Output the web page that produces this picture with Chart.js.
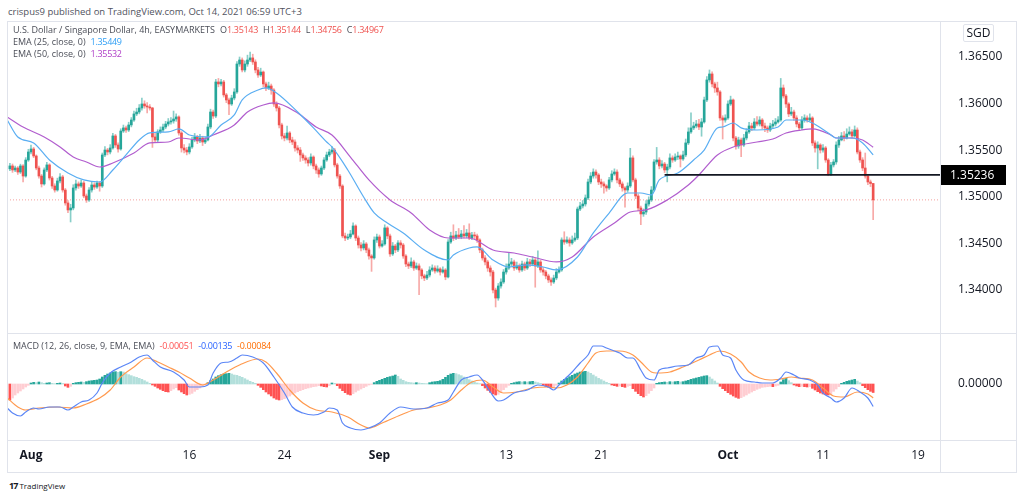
<!DOCTYPE html>
<html>
<head>
<meta charset="utf-8">
<title>USD/SGD 4h</title>
<script src="https://cdn.jsdelivr.net/npm/chart.js@4.4.1/dist/chart.umd.min.js"></script>
<style>
  html, body { margin: 0; padding: 0; background: #fff; }
  body { width: 1024px; height: 496px; position: relative; overflow: hidden; font-family: "Open Sans", Roboto, sans-serif; color: #131722; }
  .abs { position: absolute; white-space: nowrap; }
  .rule { position: absolute; background: #e0e3eb; }
  .lg { font-size: 9px; line-height: 12px; color: #4a4d57; z-index: 5; }
  .lg .it { margin-right: 5px; }
  .lg .num { letter-spacing: -0.3px; }
  canvas { display: block; }
</style>
</head>
<body>
<div class="abs" style="left:8px;top:5px;font-size:9.5px;color:#50535e">crispus9 published on TradingView.com, Oct 14, 2021 06:59 UTC+3</div>

<div class="abs" style="left:7px;top:21px;width:1009px;height:312px"><canvas id="price" width="1009" height="312"></canvas></div>
<div class="abs" style="left:7px;top:333px;width:1009px;height:139px"><canvas id="macd" width="1009" height="139"></canvas></div>

<div class="abs" style="left:7px;top:21px;width:1010px;height:452px;box-sizing:border-box;border:1px solid #e0e3eb"></div>
<div class="rule" style="left:940px;top:21px;width:1px;height:452px"></div>
<div class="rule" style="left:7px;top:333px;width:1010px;height:1px"></div>
<div class="rule" style="left:7px;top:440px;width:1010px;height:1px"></div>

<div class="abs" style="left:963px;top:24px;width:31px;height:18px;box-sizing:border-box;border:1px solid #e0e3eb;border-radius:2px;font-size:12px;line-height:16px;text-align:center;background:#fff;z-index:5">SGD</div>

<div id="lg1" class="abs lg" style="left:13px;top:24px"></div>
<div id="lg2" class="abs lg" style="left:13px;top:36px"></div>
<div id="lg3" class="abs lg" style="left:13px;top:48px"></div>
<div id="lg4" class="abs lg" style="left:13px;top:340px"></div>

<div class="abs" style="left:9px;top:479px;font-size:8px;color:#131722"><b style="font-size:9px;letter-spacing:-1px">17</b> TradingView</div>

<script>
// 4h bars, bar index 0 = Mon Aug 2 00:00 (UTC+3), 6 bars per trading day
const firstIndex = -8;
const firstOpen = 1.35300;
// opens are the previous bar's close
const closes = [
  1.35331, 1.35288, 1.35309, 1.35266, 1.35331, 1.35223, 1.35395, 1.35481,
  1.35513, 1.35438, 1.35309, 1.35223, 1.35138, 1.35288, // Aug 2
  1.35342, 1.35202, 1.35116, 1.35073, 1.35170, 1.35213,
  1.35073, 1.34934, 1.34859, 1.34880, 1.35095, 1.35138,
  1.35116, 1.35148, 1.35009, 1.34966, 1.35073, 1.35127,
  1.35105, 1.35148, 1.35116, 1.35449, 1.35502, 1.35481,
  1.35524, 1.35653, 1.35556, 1.35513, 1.35706, 1.35739, // Aug 9
  1.35717, 1.35771, 1.35824, 1.35889, 1.35910, 1.35953,
  1.35996, 1.35975, 1.35964, 1.35953, 1.35642, 1.35610,
  1.35696, 1.35717, 1.35749, 1.35781, 1.35803, 1.35814,
  1.35835, 1.35857, 1.35685, 1.35524, 1.35502, 1.35481,
  1.35535, 1.35610, 1.35642, 1.35599, 1.35631, 1.35588, // Aug 16
  1.35610, 1.35749, 1.35910, 1.35867, 1.36232, 1.36211,
  1.36232, 1.36093, 1.36039, 1.35996, 1.36060, 1.36125,
  1.36425, 1.36468, 1.36361, 1.36425, 1.36468, 1.36490,
  1.36447, 1.36361, 1.36307, 1.36339, 1.36211, 1.36168,
  1.36189, 1.36146, 1.35996, 1.35953, 1.35771, 1.35653, // Aug 23
  1.35631, 1.35685, 1.35610, 1.35588, 1.35524, 1.35502,
  1.35449, 1.35417, 1.35395, 1.35363, 1.35427, 1.35331,
  1.35288, 1.35245, 1.35309, 1.35395, 1.35449, 1.35481,
  1.35502, 1.35342, 1.35223, 1.35116, 1.34580, 1.34558,
  1.34569, 1.34601, 1.34687, 1.34558, 1.34483, 1.34451, // Aug 30
  1.34494, 1.34430, 1.34365, 1.34344, 1.34537, 1.34569,
  1.34472, 1.34494, 1.34666, 1.34580, 1.34387, 1.34472,
  1.34430, 1.34505, 1.34483, 1.34365, 1.34279, 1.34258,
  1.34301, 1.34236, 1.34258, 1.34215, 1.34151, 1.34129,
  1.34161, 1.34215, 1.34236, 1.34204, 1.34226, 1.34193, // Sep 6
  1.34215, 1.34140, 1.34515, 1.34580, 1.34558, 1.34590,
  1.34569, 1.34601, 1.34580, 1.34612, 1.34558, 1.34590,
  1.34580, 1.34537, 1.34430, 1.34344, 1.34301, 1.34236,
  1.34193, 1.34000, 1.33914, 1.34043, 1.34086, 1.34193,
  1.34236, 1.34279, 1.34301, 1.34236, 1.34258, 1.34215, // Sep 13
  1.34279, 1.34236, 1.34301, 1.34279, 1.34322, 1.34258,
  1.34301, 1.34215, 1.34193, 1.34151, 1.34108, 1.34086,
  1.34129, 1.34193, 1.34215, 1.34537, 1.34515, 1.34537,
  1.34505, 1.34537, 1.34558, 1.34869, 1.34902, 1.34923,
  1.34988, 1.35159, 1.35223, 1.35266, 1.35234, 1.35159, // Sep 20
  1.35138, 1.35116, 1.35095, 1.35181, 1.35245, 1.35266,
  1.35181, 1.35138, 1.35095, 1.35073, 1.35116, 1.35417,
  1.35181, 1.35009, 1.34880, 1.34816, 1.34837, 1.34923,
  1.34966, 1.35073, 1.35374, 1.35395, 1.35331, 1.35352,
  1.35288, 1.35320, 1.35417, 1.35395, 1.35427, 1.35438, // Sep 27
  1.35406, 1.35449, 1.35578, 1.35696, 1.35739, 1.35760,
  1.35781, 1.35749, 1.35803, 1.36039, 1.36254, 1.36318,
  1.36211, 1.36168, 1.36125, 1.35846, 1.35824, 1.35846,
  1.35996, 1.36039, 1.35631, 1.35545, 1.35610, 1.35556,
  1.35631, 1.35696, 1.35760, 1.35739, 1.35803, 1.35781, // Oct 4
  1.35824, 1.35760, 1.35739, 1.35717, 1.35760, 1.35781,
  1.35803, 1.35824, 1.36168, 1.36082, 1.35996, 1.35889,
  1.35910, 1.35846, 1.35781, 1.35739, 1.35824, 1.35846,
  1.35824, 1.35846, 1.35578, 1.35524, 1.35556, 1.35502,
  1.35524, 1.35395, 1.35245, 1.35342, 1.35374, 1.35556, // Oct 11
  1.35610, 1.35653, 1.35631, 1.35674, 1.35696, 1.35653,
  1.35717, 1.35481, 1.35395, 1.35309, 1.35223, 1.35159,
  1.35143, 1.34967
];
const highs = [
  1.35360, 1.35352, 1.35330, 1.35325, 1.35350, 1.35345, 1.35420, 1.35510,
  1.35556, 1.35530, 1.35450, 1.35330, 1.35240, 1.35310,
  1.35370, 1.35355, 1.35220, 1.35140, 1.35200, 1.35250,
  1.35230, 1.35090, 1.34960, 1.34920, 1.35130, 1.35180,
  1.35160, 1.35180, 1.35165, 1.35030, 1.35100, 1.35160,
  1.35150, 1.35170, 1.35165, 1.35470, 1.35540, 1.35520,
  1.35560, 1.35680, 1.35670, 1.35580, 1.35730, 1.35770,
  1.35760, 1.35800, 1.35850, 1.35920, 1.35950, 1.35990,
  1.36060, 1.36030, 1.36010, 1.35990, 1.35960, 1.35680,
  1.35720, 1.35750, 1.35780, 1.35810, 1.35840, 1.35850,
  1.35920, 1.35890, 1.35870, 1.35700, 1.35560, 1.35530,
  1.35570, 1.35640, 1.35680, 1.35660, 1.35670, 1.35650,
  1.35640, 1.35780, 1.35940, 1.35930, 1.36260, 1.36270,
  1.36260, 1.36250, 1.36110, 1.36060, 1.36090, 1.36160,
  1.36450, 1.36500, 1.36490, 1.36460, 1.36520, 1.36554,
  1.36530, 1.36470, 1.36390, 1.36380, 1.36350, 1.36230,
  1.36230, 1.36210, 1.36160, 1.36020, 1.35970, 1.35790,
  1.35680, 1.35760, 1.35700, 1.35640, 1.35610, 1.35550,
  1.35530, 1.35470, 1.35440, 1.35420, 1.35460, 1.35440,
  1.35350, 1.35310, 1.35330, 1.35420, 1.35480, 1.35510,
  1.35540, 1.35520, 1.35360, 1.35240, 1.35130, 1.34610,
  1.34600, 1.34640, 1.34720, 1.34700, 1.34580, 1.34510,
  1.34530, 1.34510, 1.34450, 1.34380, 1.34570, 1.34600,
  1.34590, 1.34530, 1.34700, 1.34680, 1.34600, 1.34510,
  1.34490, 1.34530, 1.34530, 1.34500, 1.34380, 1.34300,
  1.34345, 1.34320, 1.34290, 1.34280, 1.34230, 1.34170,
  1.34200, 1.34250, 1.34270, 1.34260, 1.34260, 1.34240,
  1.34250, 1.34230, 1.34540, 1.34620, 1.34700, 1.34630,
  1.34660, 1.34640, 1.34690, 1.34650, 1.34710, 1.34620,
  1.34620, 1.34600, 1.34550, 1.34450, 1.34370, 1.34320,
  1.34260, 1.34210, 1.34020, 1.34070, 1.34120, 1.34220,
  1.34280, 1.34400, 1.34340, 1.34320, 1.34300, 1.34280,
  1.34310, 1.34300, 1.34340, 1.34330, 1.34360, 1.34340,
  1.34420, 1.34320, 1.34240, 1.34210, 1.34170, 1.34130,
  1.34160, 1.34230, 1.34250, 1.34560, 1.34625, 1.34570,
  1.34560, 1.34580, 1.34610, 1.34890, 1.34940, 1.34960,
  1.35020, 1.35190, 1.35260, 1.35300, 1.35290, 1.35250,
  1.35190, 1.35160, 1.35130, 1.35210, 1.35280, 1.35300,
  1.35290, 1.35200, 1.35160, 1.35110, 1.35150, 1.35520,
  1.35440, 1.35200, 1.35030, 1.34900, 1.34870, 1.34960,
  1.35000, 1.35110, 1.35400, 1.35530, 1.35420, 1.35390,
  1.35370, 1.35350, 1.35460, 1.35440, 1.35460, 1.35480,
  1.35450, 1.35490, 1.35620, 1.35740, 1.35900, 1.35800,
  1.35820, 1.35830, 1.35840, 1.36070, 1.36290, 1.36361,
  1.36340, 1.36230, 1.36230, 1.36140, 1.35870, 1.35880,
  1.36030, 1.36080, 1.36050, 1.35650, 1.35640, 1.35630,
  1.35670, 1.35730, 1.35800, 1.35790, 1.35840, 1.35860,
  1.35860, 1.35840, 1.35790, 1.35760, 1.35790, 1.35820,
  1.35840, 1.35860, 1.36270, 1.36200, 1.36100, 1.36010,
  1.35960, 1.35930, 1.35870, 1.35800, 1.35860, 1.35880,
  1.35870, 1.35890, 1.35860, 1.35600, 1.35590, 1.35570,
  1.35560, 1.35540, 1.35410, 1.35370, 1.35400, 1.35590,
  1.35650, 1.35690, 1.35700, 1.35730, 1.35750, 1.35720,
  1.35760, 1.35740, 1.35500, 1.35420, 1.35470, 1.35240,
  1.35180, 1.35144
];
const lows = [
  1.35280, 1.35262, 1.35270, 1.35240, 1.35250, 1.35160, 1.35210, 1.35380,
  1.35460, 1.35420, 1.35290, 1.35200, 1.35105, 1.35125,
  1.35270, 1.35180, 1.35090, 1.35050, 1.35060, 1.35150,
  1.35050, 1.34910, 1.34830, 1.34730, 1.34860, 1.35070,
  1.35090, 1.35100, 1.34990, 1.34940, 1.34950, 1.35050,
  1.35080, 1.35090, 1.35060, 1.35100, 1.35430, 1.35450,
  1.35460, 1.35510, 1.35530, 1.35480, 1.35500, 1.35690,
  1.35690, 1.35700, 1.35750, 1.35810, 1.35870, 1.35890,
  1.35930, 1.35950, 1.35900, 1.35930, 1.35530, 1.35580,
  1.35590, 1.35680, 1.35700, 1.35730, 1.35760, 1.35780,
  1.35790, 1.35810, 1.35660, 1.35480, 1.35470, 1.35450,
  1.35460, 1.35520, 1.35590, 1.35570, 1.35580, 1.35550,
  1.35570, 1.35600, 1.35730, 1.35840, 1.35850, 1.36180,
  1.36190, 1.36070, 1.36010, 1.35880, 1.35980, 1.36040,
  1.36110, 1.36400, 1.36340, 1.36340, 1.36400, 1.36450,
  1.36420, 1.36330, 1.36280, 1.36290, 1.36180, 1.36140,
  1.36150, 1.36100, 1.35970, 1.35920, 1.35740, 1.35620,
  1.35600, 1.35610, 1.35580, 1.35560, 1.35490, 1.35470,
  1.35380, 1.35390, 1.35360, 1.35330, 1.35340, 1.35300,
  1.35250, 1.35210, 1.35230, 1.35290, 1.35380, 1.35430,
  1.35460, 1.35320, 1.35200, 1.35090, 1.34560, 1.34530,
  1.34540, 1.34550, 1.34590, 1.34530, 1.34450, 1.34420,
  1.34430, 1.34400, 1.34330, 1.34200, 1.34330, 1.34510,
  1.34450, 1.34460, 1.34480, 1.34550, 1.34360, 1.34370,
  1.34400, 1.34410, 1.34450, 1.34340, 1.34250, 1.34230,
  1.34240, 1.34210, 1.34220, 1.33950, 1.34120, 1.34100,
  1.34110, 1.34140, 1.34200, 1.34180, 1.34190, 1.34160,
  1.34180, 1.34110, 1.34130, 1.34500, 1.34530, 1.34540,
  1.34550, 1.34550, 1.34560, 1.34560, 1.34540, 1.34540,
  1.34550, 1.34510, 1.34400, 1.34320, 1.34270, 1.34200,
  1.34150, 1.33970, 1.33818, 1.33890, 1.34020, 1.34070,
  1.34170, 1.34220, 1.34260, 1.34210, 1.34220, 1.34190,
  1.34200, 1.34210, 1.34220, 1.34250, 1.34260, 1.34030,
  1.34240, 1.34190, 1.34160, 1.34120, 1.34080, 1.34050,
  1.34070, 1.34110, 1.34180, 1.34200, 1.34490, 1.34500,
  1.34470, 1.34490, 1.34520, 1.34540, 1.34850, 1.34880,
  1.34900, 1.34970, 1.35140, 1.35200, 1.35200, 1.35130,
  1.35100, 1.35040, 1.35060, 1.35080, 1.35160, 1.35230,
  1.35150, 1.35110, 1.35060, 1.34890, 1.35050, 1.35100,
  1.35160, 1.34980, 1.34850, 1.34700, 1.34790, 1.34810,
  1.34900, 1.34950, 1.35060, 1.35350, 1.35300, 1.35310,
  1.35260, 1.35160, 1.35300, 1.35370, 1.35380, 1.35400,
  1.35320, 1.35390, 1.35430, 1.35560, 1.35680, 1.35720,
  1.35740, 1.35720, 1.35650, 1.35790, 1.36020, 1.36230,
  1.36180, 1.36120, 1.36090, 1.35820, 1.35620, 1.35800,
  1.35830, 1.35980, 1.35600, 1.35510, 1.35520, 1.35430,
  1.35540, 1.35610, 1.35680, 1.35710, 1.35720, 1.35760,
  1.35760, 1.35730, 1.35700, 1.35690, 1.35700, 1.35740,
  1.35760, 1.35790, 1.35810, 1.36060, 1.35960, 1.35860,
  1.35870, 1.35820, 1.35750, 1.35710, 1.35720, 1.35800,
  1.35800, 1.35810, 1.35550, 1.35480, 1.35300, 1.35470,
  1.35480, 1.35370, 1.35226, 1.35226, 1.35320, 1.35350,
  1.35530, 1.35600, 1.35600, 1.35620, 1.35660, 1.35630,
  1.35640, 1.35460, 1.35370, 1.35280, 1.35200, 1.35130,
  1.35110, 1.34756
];

// EMA lines, read at bar indices
const ema25Idx = [-9, -5, 1, 7, 14, 20, 26, 31, 36, 41, 45, 52, 56, 60, 67, 72, 77, 80, 86, 89,
  93, 101, 107, 112, 114, 120, 126, 130, 135, 141, 149, 158, 160, 166, 169, 175, 181, 188, 194, 199,
  207, 213, 219, 226, 231, 235, 238, 245, 251, 255, 260, 262, 266, 269, 275, 283, 286, 292, 296, 302,
  305, 311, 315, 319];
const ema25 = [1.35824, 1.35642, 1.35578, 1.35395, 1.35256, 1.35181, 1.35159, 1.35288, 1.35449, 1.35610,
  1.35685, 1.35696, 1.35728, 1.35663, 1.35642, 1.35771, 1.35878, 1.36039, 1.36146, 1.36168,
  1.36114, 1.35910, 1.35739, 1.35588, 1.35535, 1.35288, 1.34998, 1.34827, 1.34719, 1.34612,
  1.34429, 1.34322, 1.34376, 1.34451, 1.34462, 1.34322, 1.34247, 1.34269, 1.34247, 1.34215,
  1.34354, 1.34612, 1.34826, 1.35041, 1.35041, 1.35020, 1.35181, 1.35256, 1.35395, 1.35502,
  1.35739, 1.35749, 1.35792, 1.35739, 1.35717, 1.35749, 1.35824, 1.35824, 1.35792, 1.35685,
  1.35631, 1.35631, 1.35578, 1.35449];
const ema50Idx = [-9, -3, 5, 11, 16, 21, 26, 31, 39, 45, 52, 56, 64, 69, 77, 82, 88, 92, 101, 108,
  114, 121, 128, 136, 144, 151, 158, 166, 175, 183, 190, 199, 205, 213, 221, 227, 233, 241, 249, 253,
  260, 266, 275, 281, 286, 292, 296, 303, 305, 311, 315, 319];
const ema50 = [1.35856, 1.35749, 1.35642, 1.35535, 1.35427, 1.35374, 1.35320, 1.35363, 1.35470, 1.35578,
  1.35588, 1.35631, 1.35610, 1.35663, 1.35771, 1.35910, 1.35985, 1.36007, 1.35900, 1.35749,
  1.35663, 1.35427, 1.35181, 1.34966, 1.34827, 1.34644, 1.34558, 1.34558, 1.34429, 1.34397,
  1.34354, 1.34301, 1.34354, 1.34569, 1.34719, 1.34837, 1.34859, 1.34966, 1.35127, 1.35234,
  1.35449, 1.35535, 1.35588, 1.35620, 1.35685, 1.35717, 1.35728, 1.35663, 1.35631, 1.35631,
  1.35610, 1.35532];

// MACD (12, 26, 9), values in units of 0.00001
const macdUnit = 0.00001;
const macdIdx = [-9, -7, -4, -2, 1, 3, 7, 11, 14, 16, 19, 22, 25, 27, 30, 34, 38, 41, 44, 46,
  49, 54, 58, 60, 64, 67, 69, 72, 75, 78, 80, 84, 88, 92, 96, 99, 103, 107, 111, 113,
  116, 118, 121, 125, 128, 132, 136, 140, 145, 150, 154, 158, 160, 163, 166, 169, 171, 174, 177, 179,
  183, 188, 192, 196, 198, 200, 203, 205, 208, 211, 213, 216, 218, 221, 223, 226, 228, 231, 233, 236,
  238, 241, 245, 249, 252, 255, 257, 260, 262, 265, 267, 270, 274, 277, 281, 284, 286, 289, 291, 295,
  298, 300, 303, 305, 308, 311, 314, 317, 319];
const macdLine = [-144, -174, -192, -168, -144, -150, -138, -138, -156, -138, -108, -96, -54, 6, 66, 102, 132, 162, 174, 144,
  102, 72, 24, -18, -18, -6, 66, 126, 132, 156, 174, 162, 126, 42, -54, -138, -174, -186, -168, -144,
  -156, -234, -264, -276, -264, -234, -174, -138, -150, -144, -114, -96, -48, 24, 42, 54, 24, -48, -102, -96,
  -54, -36, -6, -18, -36, -6, 42, 72, 126, 174, 228, 228, 216, 198, 186, 156, 156, 84, 36, 24,
  84, 96, 108, 114, 156, 174, 222, 228, 174, 156, 84, 24, 12, 6, 6, 36, 72, 54, 36, 24,
  -6, -54, -84, -108, -84, -24, -48, -84, -135];
const signalIdx = [-9, -5, -2, 3, 10, 16, 21, 26, 30, 34, 39, 44, 48, 52, 56, 60, 65, 69, 74, 79,
  86, 89, 93, 98, 103, 108, 114, 120, 125, 128, 133, 140, 145, 150, 155, 159, 163, 167, 171, 175,
  179, 184, 190, 196, 199, 203, 207, 211, 214, 218, 223, 228, 231, 235, 237, 242, 247, 253, 257, 261,
  265, 269, 272, 276, 280, 284, 288, 291, 296, 300, 304, 308, 313, 317, 319];
const signalLine = [-84, -138, -156, -144, -138, -144, -120, -84, -36, 42, 102, 156, 132, 102, 72, 36, -6, 24, 72, 114,
  150, 132, 66, -36, -114, -156, -168, -198, -246, -264, -234, -186, -156, -144, -126, -96, -36, 12, 24, -18,
  -54, -48, -24, -18, -24, -6, 42, 126, 186, 198, 198, 174, 132, 72, 66, 72, 102, 144, 174, 198,
  180, 132, 72, 36, 24, 30, 42, 36, 24, -24, -72, -78, -48, -60, -84];
// histogram, one value per bar from firstIndex
const histogram = [
  -96, -84, -66, -54, -42, -30, -18, -8,
  6, 10, 8, 12, 8, 4, 6, 8, 4, 2, 4, 6, 3, -12, -20, -14,
  4, 8, 10, 12, 10, 14, 18, 20, 22, 24, 30, 42, 52, 60, 66, 72, 74, 70, 74, 72,
  62, 56, 50, 44, 40, 34, 28, 20, 12, 4, -6, -14, -24, -32, -40, -46, -48, -40, -30, -22,
  -36, -48, -58, -66, -62, -56, -44, -34, -24, -14, -6,
  8, 20, 30, 42, 50, 56, 60, 62, 64, 60, 54, 52, 46, 40, 32, 24, 16, 10, 4,
  -8, -20, -34, -48, -60, -72, -84, -92, -96, -94, -88, -80, -72, -62, -54, -46, -40, -34, -28,
  -24, -20, -16, -14, -10, -12, -16, -18, -10, 6, 4,
  -10, -26, -40, -52, -62, -66, -58, -48, -38, -30, -22, -14, -6, -2,
  8, 16, 22, 28, 34, 40, 44, 48, 54, 46, 30, 22, 14, 10, 8, 6, 8, 6, 4, 3, 2,
  8, 12, 14, 16, 20, 28, 40, 52, 60, 64, 62, 56, 50, 42, 34, 26, 18, 12, 6, 2,
  -10, -24, -38, -50, -60, -66, -62, -48, -34, -20, -8,
  4, 8, 12, 14, 12, 14, 12, 14, 16, 12, 8, 4, -6, -14, -20, -24, -18, -8,
  6, 18, 28, 36, 44, 52, 60, 66, 72, 74, 76, 72, 64, 54, 44, 34, 26, 18, 10, 4,
  -6, -10, -14, -12, -16, -20, -14, -10, -28, -44, -58, -70, -78, -70, -56, -40, -24,
  4, 8, 10, 12, 10, 14, 12, 14, 16, 12, 14, 18, 22, 28, 32, 36, 40, 44, 48, 50, 42, 30, 18, 6,
  -14, -28, -40, -52, -62, -72, -80, -86, -82, -74, -66, -56, -48, -40, -32, -26, -20,
  -18, -16, -14, -16, -12, -8, 12, 26, 34, 20, 8, -6, -12, -16, -14, -16, -18, -16,
  -26, -36, -46, -54, -60, -64, -66, -58, -44, -30, -16, 4, 10, 16, 20, 24, 28, 18, 8,
  -10, -22, -34, -44, -51
];

const priceTicks = [1.340, 1.345, 1.350, 1.355, 1.360, 1.365];
const levelPrice = 1.35236;   // drawn horizontal level
const levelFrom = 240;
const timeTickIdx = [0, 60, 96, 132, 180, 216, 264, 300, 336];
const timeLabels = ['Aug', '16', '24', 'Sep', '13', '21', 'Oct', '11', '19'];
const monthTick = [true, false, false, true, false, false, true, false, false];

const xMin = -9.09, xMax = 344.32;
const UP = '#26a69a', DOWN = '#ef5350';

Chart.defaults.font.family = '"Open Sans", Roboto, sans-serif';

const opens = closes.map((c, k) => k ? closes[k - 1] : firstOpen);
const isUp = closes.map((c, k) => c >= opens[k]);
const last = closes.length - 1;

const wickData = highs.map((h, k) => ({ x: firstIndex + k, y: [lows[k], h] }));
const bodyData = closes.map((c, k) => ({ x: firstIndex + k, y: [Math.min(opens[k], c), Math.max(opens[k], c)] }));
const pts = (xs, ys, f) => xs.map((x, k) => ({ x, y: f ? ys[k] * f : ys[k] }));

function rightAxisFit(scale) {
  scale.width = 76;
  scale.paddingTop = 0;
  scale.paddingBottom = 0;
}

const priceTag = {
  id: 'priceTag',
  afterDraw(chart) {
    const ctx = chart.ctx;
    const y = chart.scales.y.getPixelForValue(levelPrice);
    const x0 = chart.chartArea.right;
    ctx.save();
    ctx.fillStyle = '#000';
    ctx.fillRect(x0, Math.round(y) - 10, 66, 20);
    ctx.fillStyle = '#fff';
    ctx.font = '12px "Open Sans", Roboto, sans-serif';
    ctx.textBaseline = 'middle';
    ctx.fillText(levelPrice.toFixed(5), x0 + 10, Math.round(y) + 0.5);
    ctx.restore();
  }
};

new Chart(document.getElementById('price'), {
  type: 'bar',
  data: {
    datasets: [
      { type: 'line', data: pts(ema25Idx, ema25), borderColor: '#5aaef2', borderWidth: 1.2,
        pointRadius: 0, cubicInterpolationMode: 'monotone', order: 2 },
      { type: 'line', data: pts(ema50Idx, ema50), borderColor: '#b15dce', borderWidth: 1.2,
        pointRadius: 0, cubicInterpolationMode: 'monotone', order: 2 },
      { type: 'line', data: [{ x: levelFrom, y: levelPrice }, { x: xMax, y: levelPrice }],
        borderColor: '#131722', borderWidth: 1.8, pointRadius: 0, order: 1 },
      { type: 'line', data: [{ x: xMin, y: closes[last] }, { x: xMax, y: closes[last] }],
        borderColor: '#f4a09d', borderWidth: 1, borderDash: [1, 2], pointRadius: 0, order: 6 },
      { data: wickData, backgroundColor: isUp.map(u => u ? 'rgba(38,166,154,0.55)' : 'rgba(239,83,80,0.5)'),
        grouped: false, barPercentage: 1, categoryPercentage: 1, maxBarThickness: 1, order: 5 },
      { data: bodyData, backgroundColor: isUp.map(u => u ? UP : DOWN), minBarLength: 1,
        grouped: false, barPercentage: 1, categoryPercentage: 1, maxBarThickness: 2, order: 4 }
    ]
  },
  options: {
    responsive: false,
    animation: false,
    events: [],
    layout: { padding: 0 },
    plugins: { legend: { display: false }, tooltip: { enabled: false } },
    scales: {
      x: { type: 'linear', min: xMin, max: xMax, offset: false, display: false },
      y: {
        position: 'right', min: 1.335387, max: 1.368863,
        grid: { display: false }, border: { display: false },
        afterFit: rightAxisFit,
        afterBuildTicks: s => { s.ticks = priceTicks.map(value => ({ value })); },
        ticks: { padding: 10, color: '#131722', font: { size: 12 }, callback: v => v.toFixed(5) }
      }
    }
  },
  plugins: [priceTag]
});

const histColors = histogram.map((h, k) => {
  const prev = k ? histogram[k - 1] : h;
  if (h >= 0) return h >= prev ? '#26a69a' : '#b2dfdb';
  return h <= prev ? '#ff5252' : '#ffcdd2';
});

new Chart(document.getElementById('macd'), {
  type: 'bar',
  data: {
    datasets: [
      { type: 'line', data: pts(macdIdx, macdLine, macdUnit), borderColor: '#5b86f6', borderWidth: 1.2,
        pointRadius: 0, cubicInterpolationMode: 'monotone', order: 1 },
      { type: 'line', data: pts(signalIdx, signalLine, macdUnit), borderColor: '#ff9a4f', borderWidth: 1.2,
        pointRadius: 0, cubicInterpolationMode: 'monotone', order: 1 },
      { data: histogram.map((h, k) => ({ x: firstIndex + k, y: h * macdUnit })), backgroundColor: histColors,
        barPercentage: 1, categoryPercentage: 1, maxBarThickness: 2, order: 3 }
    ]
  },
  options: {
    responsive: false,
    animation: false,
    events: [],
    layout: { padding: 0 },
    plugins: { legend: { display: false }, tooltip: { enabled: false } },
    scales: {
      x: {
        type: 'linear', min: xMin, max: xMax, offset: false,
        grid: { display: false }, border: { display: false },
        afterFit: s => { s.height = 32; },
        afterBuildTicks: s => { s.ticks = timeTickIdx.map(value => ({ value })); },
        ticks: {
          autoSkip: false, maxRotation: 0, padding: 0, color: '#131722',
          font: c => ({ size: 12, weight: monthTick[c.index] ? 'bold' : 'normal' }),
          callback: (v, k) => timeLabels[k]
        }
      },
      y: {
        position: 'right', min: -0.00336, max: 0.00306,
        grid: { display: false }, border: { display: false },
        afterFit: rightAxisFit,
        afterBuildTicks: s => { s.ticks = [{ value: 0 }]; },
        ticks: { padding: 10, color: '#131722', font: { size: 12 }, callback: v => v.toFixed(5) }
      }
    }
  }
});

// legends
const f5 = v => v.toFixed(5);
const item = (t, c) => `<span class="it" style="color:${c || '#4a4d57'}">${t}</span>`;
const num = (t, c) => `<span class="it num" style="color:${c}">${t}</span>`;
const ohlc = (k, v) => `<span class="it">${k}<span class="num" style="color:#ef5350">${f5(v)}</span></span>`;
document.getElementById('lg1').innerHTML =
  item('U.S. Dollar / Singapore Dollar, 4h, EASYMARKETS') +
  ohlc('O', opens[last]) + ohlc('H', highs[last]) + ohlc('L', lows[last]) + ohlc('C', closes[last]);
document.getElementById('lg2').innerHTML = item('EMA (25, close, 0)') + num(f5(ema25[ema25.length - 1]), '#2f9ff5');
document.getElementById('lg3').innerHTML = item('EMA (50, close, 0)') + num(f5(ema50[ema50.length - 1]), '#b040c8');
document.getElementById('lg4').innerHTML = item('MACD (12, 26, close, 9, EMA, EMA)') +
  num(f5(histogram[histogram.length - 1] * macdUnit), '#ff5252') +
  num(f5(macdLine[macdLine.length - 1] * macdUnit), '#2962ff') +
  num(f5(signalLine[signalLine.length - 1] * macdUnit), '#ff6d00');
</script>
</body>
</html>
